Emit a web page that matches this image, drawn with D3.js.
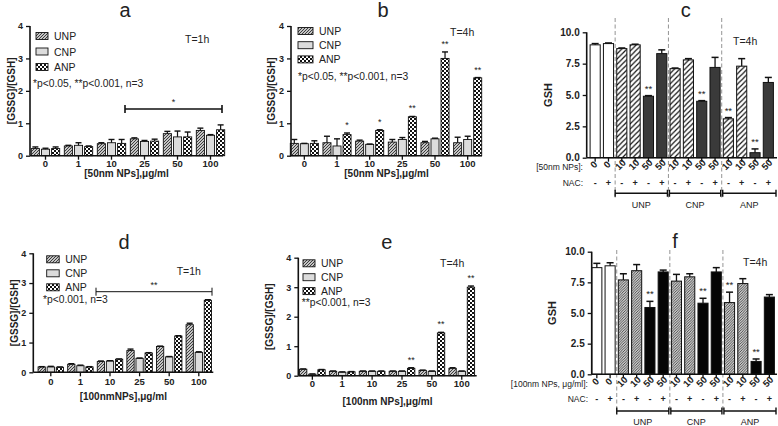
<!DOCTYPE html>
<html><head><meta charset="utf-8">
<script src="https://cdn.jsdelivr.net/npm/d3@7/dist/d3.min.js"></script>
<style>
html,body{margin:0;padding:0;background:#fff;}
svg{display:block;font-family:"Liberation Sans",Arial,sans-serif;}
</style></head>
<body><svg id="chart" width="778" height="426"></svg>
<script>
// ---------- DATA ----------
const concs = ["0","1","10","25","50","100"];
const series = ["UNP","CNP","ANP"];
const yTicksRatio = [0,1,2,3,4];
const yTicksGSH = [0,2.5,5,7.5,10];

// panel a (50nm, 1h)
const aUNP = [0.22,0.30,0.37,0.52,0.68,0.78];
const aCNP = [0.20,0.32,0.40,0.44,0.58,0.63];
const aANP = [0.22,0.28,0.38,0.45,0.58,0.80];
const aErrUNP = [0.05,0.02,0.03,0.03,0.07,0.07];
const aErrCNP = [0.03,0.08,0.10,0.03,0.18,0.02];
const aErrANP = [0.05,0.02,0.12,0.06,0.15,0.15];

// panel b (50nm, 4h)
const bUNP = [0.38,0.40,0.45,0.42,0.40,0.40];
const bCNP = [0.37,0.30,0.35,0.50,0.52,0.50];
const bANP = [0.38,0.65,0.78,1.20,3.00,2.40];
const bErrUNP = [0.12,0.20,0.03,0.08,0.04,0.17];
const bErrCNP = [0.01,0.22,0.01,0.06,0.02,0.10];
const bErrANP = [0.08,0.05,0.02,0.01,0.20,0.01];
const bSig = ["","*","*","**","**","**"];

// panel d (100nm, 1h)
const dUNP = [0.18,0.27,0.36,0.73,0.87,1.60];
const dCNP = [0.18,0.22,0.38,0.47,0.52,0.67];
const dANP = [0.17,0.18,0.44,0.65,1.22,2.42];
const dErrUNP = [0.01,0.02,0.02,0.05,0.01,0.05];
const dErrCNP = [0.02,0.02,0.01,0.01,0.01,0.02];
const dErrANP = [0.01,0.01,0.01,0.01,0.01,0.02];

// panel e (100nm, 4h)
const eUNP = [0.22,0.15,0.15,0.15,0.18,0.25];
const eCNP = [0.05,0.12,0.15,0.15,0.15,0.15];
const eANP = [0.20,0.13,0.15,0.25,1.45,3.00];
const eErrUNP = [0.01,0.01,0.01,0.01,0.01,0.02];
const eErrCNP = [0.01,0.01,0.01,0.01,0.01,0.01];
const eErrANP = [0.01,0.01,0.01,0.02,0.02,0.04];
const eSig = ["","","","**","**","**"];

// panels c / f (GSH)
const gshDose = ["0","0","10","10","50","50","10","10","50","50","10","10","50","50"];
const gshNAC  = ["-","+","-","+","-","+","-","+","-","+","-","+","-","+"];
const gshKind = ["open","open","hatch","hatch","solid","solid","hatch","hatch","solid","solid","hatch","hatch","solid","solid"];
const gshGroups = ["UNP","CNP","ANP"];
const cGSH = [9.0,9.1,8.7,9.0,4.9,8.3,7.1,7.8,4.5,7.2,3.1,7.3,0.4,6.0];
const cErr = [0.10,0.05,0.05,0.05,0.05,0.30,0.05,0.10,0.05,0.80,0.10,0.60,0.30,0.40];
const cSig = ["","","","","**","","","","**","","**","","**",""];
const fGSH = [8.7,8.85,7.7,8.45,5.45,8.35,7.6,7.95,5.8,8.35,5.85,7.4,1.05,6.3];
const fErr = [0.35,0.25,0.5,0.5,0.5,0.15,0.55,0.25,0.4,0.35,0.85,0.4,0.2,0.2];
const fSig = ["","","","","**","","","","**","","**","","**",""];

// ---------- DRAW ----------
const svg = d3.select("#chart");
const INK = "#222";
const defs = svg.append("defs");
function hatch(id, size, color, bg, sw){
  const p = defs.append("pattern").attr("id",id).attr("patternUnits","userSpaceOnUse")
    .attr("width",size).attr("height",size);
  p.append("rect").attr("width",size).attr("height",size).attr("fill",bg);
  p.append("path").attr("d",`M0,${size} L${size},0 M${-size/2},${size/2} L${size/2},${-size/2} M${size/2},${size*1.5} L${size*1.5},${size/2}`)
    .attr("stroke",color).attr("stroke-width",sw);
}
hatch("hUNP",3,"#333","#fff",1.1);
hatch("hC",5.2,"#111","#fff",1.2);
hatch("hF",2.6,"#333","#fff",0.9);
{
  const p = defs.append("pattern").attr("id","chk").attr("patternUnits","userSpaceOnUse").attr("width",4).attr("height",4);
  p.append("rect").attr("width",4).attr("height",4).attr("fill","#fff");
  p.append("rect").attr("width",2).attr("height",2).attr("fill","#111");
  p.append("rect").attr("x",2).attr("y",2).attr("width",2).attr("height",2).attr("fill","#111");
}
const seriesFill = {UNP:"url(#hUNP)", CNP:"#dcdcdc", ANP:"url(#chk)"};

function txt(g,x,y,s,o={}){
  return g.append("text").attr("x",x).attr("y",y).text(s)
    .attr("font-size",o.size||10).attr("font-weight",o.bold?"bold":"normal")
    .attr("text-anchor",o.anchor||"start").attr("fill",o.fill||INK);
}

function groupedPanel(p){
  const g = svg.append("g");
  const x = d3.scaleBand().domain(concs).range([p.xr0,p.xr1]);
  const inner = x.bandwidth()*0.86;
  const xs = d3.scaleBand().domain(series).range([0,inner]).paddingInner(0.2);
  const y = d3.scaleLinear().domain([0,4]).range([p.y0,p.y4]);
  const rows = [];
  series.forEach((s,si)=>p.vals[si].forEach((v,i)=>rows.push({s,c:concs[i],v,e:p.errs[si][i],sig:si===2&&p.sig?p.sig[i]:""})));
  const bx = d=>x(d.c)+(x.bandwidth()-inner)/2+xs(d.s);
  g.selectAll("rect.bar").data(rows).join("rect").attr("class","bar")
    .attr("x",bx).attr("width",xs.bandwidth())
    .attr("y",d=>y(d.v)).attr("height",d=>y(0)-y(d.v))
    .attr("fill",d=>seriesFill[d.s]).attr("stroke","#111").attr("stroke-width",0.9);
  const eb = g.selectAll("g.err").data(rows).join("g").attr("class","err");
  eb.append("line").attr("x1",d=>bx(d)+xs.bandwidth()/2).attr("x2",d=>bx(d)+xs.bandwidth()/2)
    .attr("y1",d=>y(d.v)).attr("y2",d=>y(d.v+d.e)).attr("stroke","#111").attr("stroke-width",1.2);
  eb.append("line").attr("x1",d=>bx(d)+xs.bandwidth()/2-3).attr("x2",d=>bx(d)+xs.bandwidth()/2+3)
    .attr("y1",d=>y(d.v+d.e)).attr("y2",d=>y(d.v+d.e)).attr("stroke","#111").attr("stroke-width",1.4);
  g.selectAll("text.sig").data(rows.filter(d=>d.sig)).join("text").attr("class","sig")
    .attr("x",d=>bx(d)+xs.bandwidth()/2).attr("y",d=>y(d.v+d.e)-5).attr("text-anchor","middle")
    .attr("font-size",9).attr("fill",INK).text(d=>d.sig);
  const ya = g.append("g").attr("transform",`translate(${p.ax},0)`)
    .call(d3.axisLeft(y).tickValues(yTicksRatio).tickSize(4).tickFormat(d3.format("d")));
  ya.select(".domain").attr("stroke","#111").attr("stroke-width",1.6).attr("d",`M0,${p.y0}V${p.y4}`);
  ya.selectAll(".tick line").attr("stroke","#111").attr("stroke-width",1.3);
  ya.selectAll(".tick text").attr("font-size",9).attr("font-weight","bold").attr("fill",INK).attr("font-family","Liberation Sans, Arial");
  g.append("line").attr("x1",p.ax).attr("x2",p.axEnd).attr("y1",p.y0).attr("y2",p.y0).attr("stroke","#111").attr("stroke-width",1.6);
  const xa = g.append("g").attr("transform",`translate(0,${p.y0})`)
    .call(d3.axisBottom(x).tickSize(4).tickSizeOuter(0));
  xa.select(".domain").remove();
  xa.selectAll(".tick line").attr("stroke","#111").attr("stroke-width",1.3);
  xa.selectAll(".tick text").attr("font-size",9.5).attr("font-weight","bold").attr("fill",INK)
    .attr("font-family","Liberation Sans, Arial").attr("dy",null).attr("y",p.tickDy);
  txt(g,(p.ax+p.axEnd)/2,p.xlabY,p.xlab,{size:10,bold:true,anchor:"middle"});
  g.append("text").attr("transform",`translate(${p.ylabX},${(p.y0+p.y4)/2}) rotate(-90)`)
    .attr("text-anchor","middle").attr("font-size",10).attr("font-weight","bold").attr("fill",INK).text("[GSSG]/[GSH]");
  txt(g,p.title[0],p.title[1],p.title[2],{size:20,anchor:"middle"});
  txt(g,p.tlab[0],p.tlab[1],p.tlab[2],{size:10.5});
  series.forEach((s,i)=>{
    g.append("rect").attr("x",p.leg[0]).attr("y",p.leg[1]+i*p.leg[2]-3.5).attr("width",p.legW).attr("height",7)
      .attr("fill",seriesFill[s]).attr("stroke","#111").attr("stroke-width",0.9);
    txt(g,p.leg[0]+p.legW+6,p.leg[1]+i*p.leg[2]+4,s,{size:10.5});
  });
  txt(g,p.ptext[0],p.ptext[1],p.ptext[2],{size:10.3});
  if(p.bracket){
    const [bx0,bx1,by,lab] = p.bracket;
    g.append("path").attr("d",`M${bx0},${by-4}V${by+4}M${bx0},${by}H${bx1}M${bx1},${by-4}V${by+4}`)
      .attr("stroke","#111").attr("stroke-width",p.bracketW).attr("fill","none");
    txt(g,(bx0+bx1)/2,by-4,lab,{size:9,anchor:"middle"});
  }
}

groupedPanel({xr0:29,xr1:227,ax:30,axEnd:223,y0:155.7,y4:26,
  vals:[aUNP,aCNP,aANP],errs:[aErrUNP,aErrCNP,aErrANP],tickDy:11,
  xlab:"[50nm NPs],μg/ml",xlabY:177,ylabX:15,title:[125,16.5,"a"],tlab:[185,43,"T=1h"],
  leg:[36,36,15.5],legW:12,ptext:[33,87,"*p<0.05, **p<0.001, n=3"],bracket:[125,222,109,"*"],bracketW:1.6});
groupedPanel({xr0:288,xr1:484,ax:291,axEnd:482,y0:155.7,y4:26,
  vals:[bUNP,bCNP,bANP],errs:[bErrUNP,bErrCNP,bErrANP],sig:bSig,tickDy:11,
  xlab:"[50nm NPs],μg/ml",xlabY:177,ylabX:275,title:[383,16.5,"b"],tlab:[450,36,"T=4h"],
  leg:[298,31,14.2],legW:15,ptext:[298,80,"*p<0.05, **p<0.001, n=3"]});
groupedPanel({xr0:36,xr1:213.6,ax:33.3,axEnd:213.3,y0:372.3,y4:253.3,
  vals:[dUNP,dCNP,dANP],errs:[dErrUNP,dErrCNP,dErrANP],tickDy:12.5,
  xlab:"[100nmNPs],μg/ml",xlabY:400,ylabX:18,title:[124,249,"d"],tlab:[176.7,275,"T=1h"],
  leg:[46.7,259.3,14],legW:12.5,ptext:[43,303,"*p<0.001, n=3"],bracket:[96,212,291.7,"**"],bracketW:1});
groupedPanel({xr0:297.4,xr1:476.7,ax:298.3,axEnd:476.7,y0:375.7,y4:257.7,
  vals:[eUNP,eCNP,eANP],errs:[eErrUNP,eErrCNP,eErrANP],sig:eSig,tickDy:11,
  xlab:"[100nm NPs],μg/ml",xlabY:405,ylabX:273,title:[386.7,248.5,"e"],tlab:[440,266.7,"T=4h"],
  leg:[303,263.3,13.9],legW:12,ptext:[301.7,305.5,"**p<0.001, n=3"]});

function gshPanel(p){
  const g = svg.append("g");
  const idx = d3.range(gshDose.length);
  const x = d3.scaleBand().domain(idx).range([p.xr0,p.xr1]).paddingInner(0.24).paddingOuter(0.12);
  const y = d3.scaleLinear().domain([0,10]).range([p.y0,p.y10]);
  const rows = idx.map(i=>({i,v:p.vals[i],e:p.errs[i],k:gshKind[i],sig:p.sig[i]}));
  const cx = i=>x(i)+x.bandwidth()/2;
  const seps = [1.5,5.5,9.5].map(b=>(cx(Math.floor(b))+cx(Math.ceil(b)))/2);
  g.selectAll("line.sep").data(seps).join("line").attr("x1",d=>d).attr("x2",d=>d)
    .attr("y1",p.dash[0]).attr("y2",p.dash[1]).attr("stroke","#888").attr("stroke-width",0.9).attr("stroke-dasharray","4,2.5");
  const fill = {open:"#fff",hatch:p.hatchFill,solid:p.solid};
  g.selectAll("rect.bar").data(rows).join("rect").attr("class","bar")
    .attr("x",d=>x(d.i)).attr("width",x.bandwidth()).attr("y",d=>y(d.v)).attr("height",d=>y(0)-y(d.v))
    .attr("fill",d=>fill[d.k]).attr("stroke","#111").attr("stroke-width",1);
  const eb = g.selectAll("g.err").data(rows).join("g");
  eb.append("line").attr("x1",d=>cx(d.i)).attr("x2",d=>cx(d.i)).attr("y1",d=>y(d.v)).attr("y2",d=>y(d.v+d.e))
    .attr("stroke","#111").attr("stroke-width",1.3);
  eb.append("line").attr("x1",d=>cx(d.i)-3.5).attr("x2",d=>cx(d.i)+3.5).attr("y1",d=>y(d.v+d.e)).attr("y2",d=>y(d.v+d.e))
    .attr("stroke","#111").attr("stroke-width",1.5);
  g.selectAll("text.sig").data(rows.filter(d=>d.sig)).join("text")
    .attr("x",d=>cx(d.i)).attr("y",d=>y(d.v+d.e)-4).attr("text-anchor","middle").attr("font-size",9.5).attr("fill",INK).text(d=>d.sig);
  const ya = g.append("g").attr("transform",`translate(${p.ax},0)`)
    .call(d3.axisLeft(y).tickValues(yTicksGSH).tickSize(4).tickFormat(d3.format(".1f")));
  ya.select(".domain").attr("stroke","#111").attr("stroke-width",1.6).attr("d",`M0,${p.y0}V${p.y10}`);
  ya.selectAll(".tick line").attr("stroke","#111").attr("stroke-width",1.3);
  ya.selectAll(".tick text").attr("font-size",10).attr("font-weight","bold").attr("fill",INK).attr("font-family","Liberation Sans, Arial");
  g.append("line").attr("x1",p.ax).attr("x2",p.axEnd).attr("y1",p.y0).attr("y2",p.y0).attr("stroke","#111").attr("stroke-width",1.6);
  g.selectAll("line.xt").data(idx).join("line").attr("x1",cx).attr("x2",cx).attr("y1",p.y0).attr("y2",p.y0+4)
    .attr("stroke","#111").attr("stroke-width",1.3);
  g.selectAll("text.dose").data(idx).join("text")
    .attr("transform",i=>`translate(${cx(i)+1},${p.doseY}) rotate(-45)`).attr("text-anchor","middle")
    .attr("font-size",9.5).attr("font-weight","bold").attr("fill",INK).text(i=>gshDose[i]);
  g.selectAll("text.nac").data(idx).join("text")
    .attr("x",cx).attr("y",p.nacY).attr("text-anchor","middle").attr("font-size",9).attr("font-weight","bold").attr("fill",INK).text(i=>gshNAC[i]);
  txt(g,p.rowX,p.doseY+3,p.doseLab,{size:8.5,anchor:"end"});
  txt(g,p.rowX,p.nacY,"NAC:",{size:8.5,anchor:"end"});
  const bounds = [seps[0],seps[1],seps[2],p.bracketEnd];
  gshGroups.forEach((gname,gi)=>{
    const a=bounds[gi]+(gi?1:0), b=bounds[gi+1]-(gi<2?1:0);
    g.append("path").attr("d",`M${a},${p.brY-3.5}V${p.brY+3.5}M${a},${p.brY}H${b}M${b},${p.brY-3.5}V${p.brY+3.5}`)
      .attr("stroke","#111").attr("stroke-width",1.4).attr("fill","none");
    txt(g,(a+b)/2,p.glabY,gname,{size:9,anchor:"middle"});
  });
  g.append("text").attr("transform",`translate(${p.ylabX},${(p.y0+p.y10)/2}) rotate(-90)`)
    .attr("text-anchor","middle").attr("font-size",11).attr("font-weight","bold").attr("fill",INK).text("GSH");
  txt(g,p.title[0],p.title[1],p.title[2],{size:20,anchor:"middle"});
  txt(g,p.tlab[0],p.tlab[1],"T=4h",{size:10.5});
}

gshPanel({xr0:588.5,xr1:775,ax:586.7,axEnd:777,y0:157.7,y10:32.3,vals:cGSH,errs:cErr,sig:cSig,
  hatchFill:"url(#hC)",solid:"#3a3a3a",dash:[18,200],doseY:167,nacY:185.5,rowX:583,doseLab:"[50nm NPs]:",
  brY:193.3,glabY:207.5,bracketEnd:776,ylabX:552,title:[685.7,16.7,"c"],tlab:[733,45]});
gshPanel({xr0:590.2,xr1:776,ax:591.7,axEnd:777,y0:374.3,y10:251.7,vals:fGSH,errs:fErr,sig:fSig,
  hatchFill:"url(#hF)",solid:"#050505",dash:[250,410],doseY:384,nacY:402,rowX:588,doseLab:"[100nm NPs, μg/ml]:",
  brY:411,glabY:425,bracketEnd:776,ylabX:556,title:[675,248.3,"f"],tlab:[743,266]});
</script></body></html>
